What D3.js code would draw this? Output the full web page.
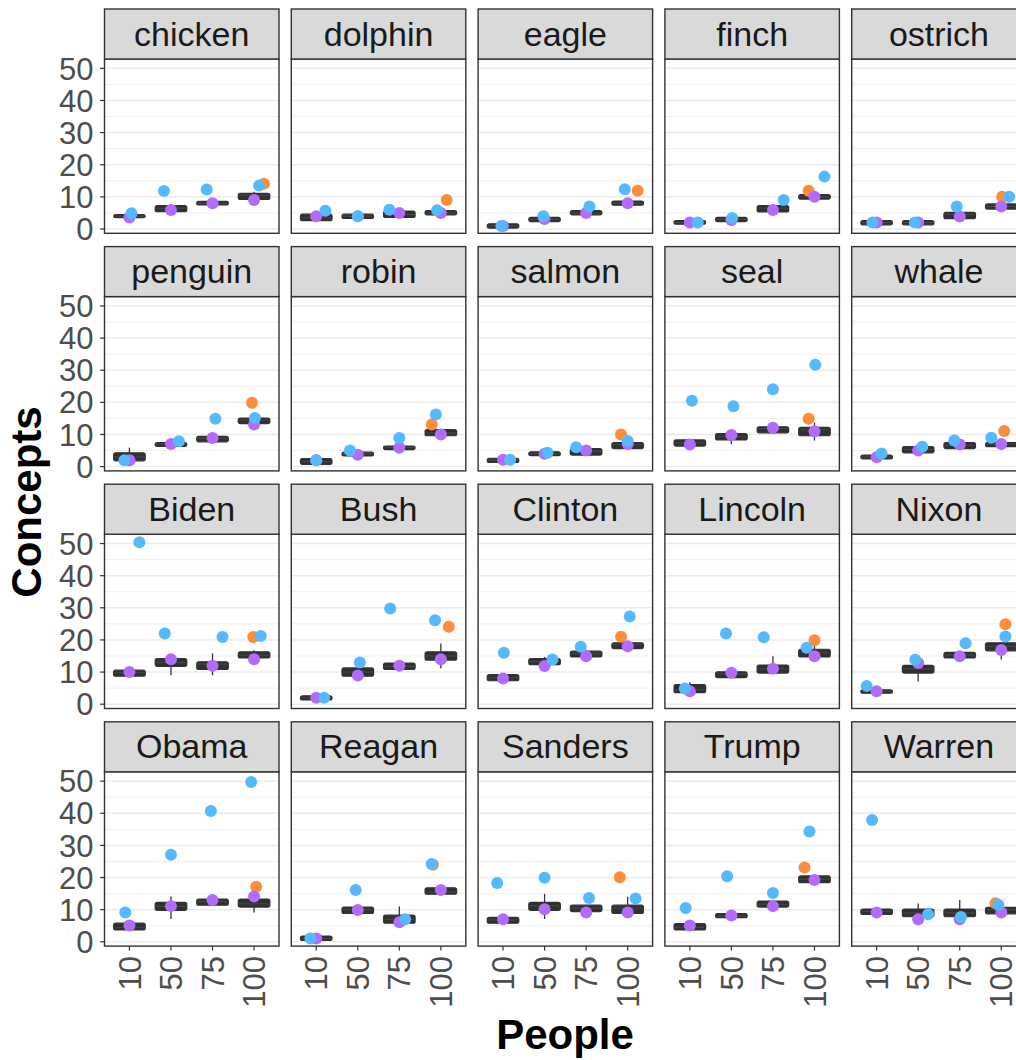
<!DOCTYPE html>
<html>
<head>
<meta charset="utf-8">
<script src="https://cdn.jsdelivr.net/npm/d3@7"></script>
<style>
  html, body { margin: 0; padding: 0; background: #fff; }
  svg { display: block; font-family: "Liberation Sans", Arial, sans-serif; }
</style>
</head>
<body>
<svg id="chart" width="1016" height="1060"></svg>
<script>
// ---------------- data ----------------
const facets = ["chicken","dolphin","eagle","finch","ostrich",
                "penguin","robin","salmon","seal","whale",
                "Biden","Bush","Clinton","Lincoln","Nixon",
                "Obama","Reagan","Sanders","Trump","Warren"];
const peopleLevels = ["10","50","75","100"];
const yTicks = [0,10,20,30,40,50];
const yMinor = [5,15,25,35,45];

// box statistics per facet, per level: [lower whisker, q1, median, q3, upper whisker]
const boxStats = [
  [[3.6,3.6,4,4.4,4.4],[5.4,5.4,6.5,7.3,7.3],[7.5,7.5,8,8.6,8.6],[9.2,9.2,10.5,11.1,11.6]],
  [[2.6,2.6,3.5,4.6,4.6],[3.3,3.3,4,4.6,4.6],[3.6,3.6,4.5,5.6,5.6],[4.4,4.4,5,5.7,5.7]],
  [[0.3,0.3,1,1.6,1.6],[2.3,2.3,3,3.6,3.6],[4.4,4.4,5,5.7,5.7],[7.4,7.4,8,8.7,8.7]],
  [[1.5,1.5,2,2.6,2.6],[2.3,2.3,3,3.6,3.6],[5.3,5.3,6.5,7.3,7.3],[9.3,9.3,10,10.7,10.7]],
  [[1.3,1.3,2,2.6,2.6],[1.3,1.3,2,2.6,2.6],[3.2,3.2,4.5,5.2,5.2],[6.2,6.2,7,7.8,7.8]],
  [[1.8,1.8,3,4.3,5.9],[6.3,6.3,7,7.5,7.5],[7.7,7.7,8.8,9.4,9.4],[13.4,13.4,14.5,15.1,15.1]],
  [[0.7,0.7,1.5,2.5,2.5],[3.3,3.3,4,4.5,4.5],[5.3,5.3,6,6.4,6.4],[9.6,9.6,10.5,11.5,11.5]],
  [[1.3,1.3,2,2.6,2.6],[3.4,3.4,4,4.6,4.6],[3.6,3.6,4.8,5.6,5.6],[5.6,5.6,6.8,7.5,7.5]],
  [[6.4,6.4,7.4,8.3,8.3],[7.0,8.3,9.3,10.3,10.3],[10.5,10.5,11.8,12.4,12.4],[8.1,9.6,11.5,12.2,13.7]],
  [[2.4,2.4,3,3.6,3.6],[4.3,4.3,5.3,6.2,6.2],[5.6,5.6,6.6,7.5,7.5],[6.2,6.2,7,7.5,7.5]],
  [[8.7,8.7,9.8,10.6,10.6],[9.0,11.8,13,14.2,14.2],[9.0,10.8,12.5,13.2,15.8],[14.4,14.4,15.3,16.3,16.8]],
  [[1.3,1.3,2,2.6,2.6],[8.7,8.7,10,11.3,11.3],[10.8,10.8,11.8,12.8,12.8],[11.2,13.7,15,16.3,18.9]],
  [[7.3,7.3,8.2,9.2,9.2],[12.3,12.3,13.3,14.2,14.7],[14.7,14.7,15.7,16.5,16.5],[17.3,17.3,18.5,19.1,19.1]],
  [[3.6,3.6,4.5,6.1,6.8],[8.3,8.3,9.4,10.1,10.1],[9.7,9.7,11,12.2,14.9],[14.7,14.7,16,17.1,18.3]],
  [[3.4,3.4,4,4.5,4.5],[7.1,9.7,11,12.1,12.1],[14.4,14.4,15.3,16.1,16.1],[13.9,16.6,18,19.1,19.1]],
  [[3.7,3.7,4.5,5.8,5.8],[7.1,9.8,11,12.3,14.1],[11.4,11.4,12.5,13.3,13.3],[9.1,10.8,11.8,13.3,13.3]],
  [[0.4,0.4,1,1.8,1.8],[8.8,8.8,10,10.8,10.8],[5.8,5.8,7,8.3,11.0],[14.8,14.8,15.5,16.8,16.8]],
  [[5.8,5.8,6.8,7.6,7.6],[7.1,9.8,11.2,12.3,14.9],[9.4,9.4,10.5,11.4,11.4],[8.8,8.8,10.5,11.4,14.0]],
  [[3.7,3.7,4.5,5.7,5.7],[7.5,7.5,8,8.8,8.8],[10.8,10.8,11.7,12.7,12.7],[18.4,18.4,19.5,20.5,20.5]],
  [[8.5,8.5,9.5,10.2,10.2],[7.8,7.8,9,10.2,11.9],[7.8,7.8,9,10.2,13.0],[8.7,8.7,10,10.7,10.7]]
];

// blue points per facet, per level
const blueValues = [
  [4.9,11.8,12.3,13.5],[5.7,4.0,6.0,5.8],[0.9,4.0,7.0,12.4],[2.0,3.4,9.0,16.3],[2.0,2.0,7.0,10.0],
  [2.0,7.9,14.9,15.1],[2.0,5.0,8.9,16.2],[2.1,4.3,6.0,8.0],[20.5,18.8,24.1,31.7],[4.1,6.2,8.1,9.0],
  [50.4,22.0,20.9,21.2],[2.0,13.0,29.8,26.1],[16.0,13.9,17.9,27.3],[4.9,22.0,20.8,17.6],[5.7,13.8,19.0,21.1],
  [9.1,27.1,40.7,49.7],[1.0,16.1,7.0,24.2],[18.3,19.9,13.6,13.5],[10.5,20.4,15.2,34.3],[37.9,8.6,7.7,11.5]
];
// horizontal jitter of blue points (fraction of category step)
const blueJitter = [
  [0.05,-0.17,-0.14,0.12],[0.22,0,-0.24,-0.09],[-0.04,-0.03,0.08,-0.07],[0.19,0.02,0.26,0.24],[-0.1,-0.08,-0.07,0.19],
  [-0.12,0.19,0.07,0.02],[0,-0.19,0,-0.12],[0.17,0.07,-0.24,0],[0.05,0.05,0,0.02],[0.12,0.1,-0.13,-0.24],
  [0.24,-0.15,0.24,0.16],[0.19,0.05,-0.22,-0.14],[0.02,0.19,-0.13,0.05],[-0.12,-0.13,-0.22,-0.19],[-0.24,-0.07,0.14,0.1],
  [-0.1,0,-0.04,-0.07],[-0.14,-0.05,0.14,-0.22],[-0.14,0,0.07,0.19],[-0.1,-0.1,0,-0.12],[-0.11,0.24,0.03,-0.07]
];
// purple points per facet, per level (centred)
const purpleValues = [
  [3.6,5.9,8.0,9.0],[4.0,4.0,5.0,5.0],[0.9,3.1,5.0,8.0],[2.0,2.8,5.9,10.0],[2.0,2.0,3.9,7.0],
  [2.0,7.0,8.9,13.1],[2.0,3.7,5.9,10.0],[2.1,4.0,5.0,7.0],[6.9,9.8,12.1,11.0],[2.9,5.0,6.9,7.0],
  [10.0,14.0,12.0,14.0],[2.0,8.9,12.0,14.0],[8.0,11.9,14.9,18.0],[4.0,9.8,11.0,14.9],[4.0,12.8,14.9,16.9],
  [5.1,11.1,13.0,14.1],[1.0,9.9,6.1,16.1],[7.0,10.1,9.1,9.1],[5.1,8.2,11.1,19.2],[9.1,7.0,7.0,9.1]
];
// orange points (level "100" only) and their jitter
const orangeValues = [14.1,9.0,11.9,11.9,10.0, 19.9,13.1,10.0,14.9,11.1,
                      20.9,24.1,21.0,19.9,24.9, 17.1,24.0,20.1,23.1,12.0];
const orangeJitter = [0.24,0.14,0.24,-0.14,0.02, -0.05,-0.22,-0.16,-0.14,0.07,
                      -0.02,0.19,-0.16,0,0.1, 0.05,-0.19,-0.19,-0.24,-0.14];

// ---------------- layout ----------------
const svg = d3.select("#chart");
const nCols = 5;
const left0 = 104.5, top0 = 9;
const panelW = 174.5, colStep = 186.8;
const stripH = 50, panelH = 174.3, rowStep = 237.6;
const colors = { blue: "#56B9FF", purple: "#B26BFF", orange: "#FD8D3C" };
const ptR = 6;

const x = d3.scalePoint().domain(peopleLevels).range([0, panelW]).padding(0.6);
const y = d3.scaleLinear().domain([-1.34, 52.91]).range([panelH, 0]);
const step = x.step();
const boxW = step * 0.76;

svg.append("rect").attr("width", 1016).attr("height", 1060).attr("fill", "#fff");

facets.forEach((name, fi) => {
  const col = fi % nCols, row = Math.floor(fi / nCols);
  const px = left0 + col * colStep;
  const sy = top0 + row * rowStep;
  const py = sy + stripH;
  const g = svg.append("g").attr("transform", `translate(${px},${py})`);

  // panel background
  g.append("rect").attr("width", panelW).attr("height", panelH).attr("fill", "#fff");
  // grid
  g.selectAll("line.minor").data(yMinor).enter().append("line")
    .attr("x1", 0).attr("x2", panelW)
    .attr("y1", d => y(d)).attr("y2", d => y(d))
    .attr("stroke", "#EBEBEB").attr("stroke-width", 0.8);
  g.selectAll("line.major").data(yTicks).enter().append("line")
    .attr("x1", 0).attr("x2", panelW)
    .attr("y1", d => y(d)).attr("y2", d => y(d))
    .attr("stroke", "#EBEBEB").attr("stroke-width", 1.5);

  // boxplots
  boxStats[fi].forEach((b, li) => {
    const cx = x(peopleLevels[li]);
    const [lo, q1, med, q3, hi] = b;
    if (lo < q1) g.append("line").attr("x1", cx).attr("x2", cx).attr("y1", y(lo)).attr("y2", y(q1))
      .attr("stroke", "#333").attr("stroke-width", 1.3);
    if (hi > q3) g.append("line").attr("x1", cx).attr("x2", cx).attr("y1", y(hi)).attr("y2", y(q3))
      .attr("stroke", "#333").attr("stroke-width", 1.3);
    const h = Math.max(y(q1) - y(q3), 3);
    g.append("rect").attr("x", cx - boxW / 2).attr("y", (y(q1) + y(q3)) / 2 - h / 2)
      .attr("width", boxW).attr("height", h).attr("rx", 2)
      .attr("fill", "#303030").attr("stroke", "#333").attr("stroke-width", 1.2);
    g.append("line").attr("x1", cx - boxW / 2 + 1).attr("x2", cx + boxW / 2 - 1)
      .attr("y1", y(med)).attr("y2", y(med)).attr("stroke", "#4a4a4a").attr("stroke-width", 1);
  });

  // orange point (level 100)
  g.append("circle").attr("cx", x("100") + orangeJitter[fi] * step).attr("cy", y(orangeValues[fi]))
    .attr("r", ptR).attr("fill", colors.orange);
  // purple points
  purpleValues[fi].forEach((v, li) => {
    g.append("circle").attr("cx", x(peopleLevels[li])).attr("cy", y(v)).attr("r", ptR).attr("fill", colors.purple);
  });
  // blue points
  blueValues[fi].forEach((v, li) => {
    g.append("circle").attr("cx", x(peopleLevels[li]) + blueJitter[fi][li] * step).attr("cy", y(v))
      .attr("r", ptR).attr("fill", colors.blue);
  });

  // panel border
  g.append("rect").attr("width", panelW).attr("height", panelH)
    .attr("fill", "none").attr("stroke", "#333").attr("stroke-width", 1.4);

  // strip
  svg.append("rect").attr("x", px).attr("y", sy).attr("width", panelW).attr("height", stripH)
    .attr("fill", "#D9D9D9").attr("stroke", "#333").attr("stroke-width", 1.4);
  svg.append("text").attr("x", px + panelW / 2).attr("y", sy + 36.5)
    .attr("text-anchor", "middle").attr("font-size", 34).attr("fill", "#1A1A1A").text(name);

  // y axis on first column
  if (col === 0) {
    const ya = g.append("g");
    yTicks.forEach(t => {
      ya.append("line").attr("x1", -4.5).attr("x2", 0).attr("y1", y(t)).attr("y2", y(t))
        .attr("stroke", "#333").attr("stroke-width", 1.2);
      ya.append("text").attr("x", -11).attr("y", y(t)).attr("dy", "0.36em")
        .attr("text-anchor", "end").attr("font-size", 31).attr("fill", "#4D4D4D").text(t);
    });
  }
  // x axis on last row
  if (row === 3) {
    const xa = g.append("g").attr("transform", `translate(0,${panelH})`);
    peopleLevels.forEach(l => {
      xa.append("line").attr("x1", x(l)).attr("x2", x(l)).attr("y1", 0).attr("y2", 4.5)
        .attr("stroke", "#333").attr("stroke-width", 1.2);
      xa.append("text").attr("transform", `translate(${x(l)},10) rotate(-90)`)
        .attr("dy", "0.36em").attr("text-anchor", "end")
        .attr("font-size", 31).attr("fill", "#4D4D4D").text(l);
    });
  }
});

// axis titles
svg.append("text").attr("transform", "translate(41,502) rotate(-90)")
  .attr("text-anchor", "middle").attr("font-size", 42).attr("font-weight", "bold")
  .attr("fill", "#000").text("Concepts");
svg.append("text").attr("x", 565).attr("y", 1049)
  .attr("text-anchor", "middle").attr("font-size", 42).attr("font-weight", "bold")
  .attr("fill", "#000").text("People");
</script>
</body>
</html>
